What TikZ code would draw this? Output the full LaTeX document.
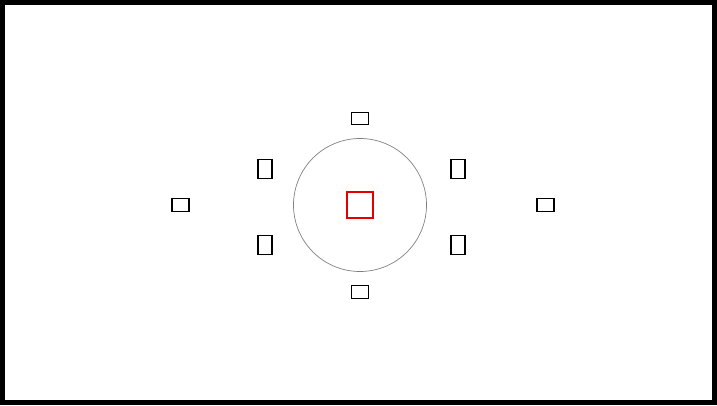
\documentclass[tikz,border=0pt]{standalone}
\begin{document}
\begin{tikzpicture}[x=1pt,y=-1pt,
    wide/.style={draw,line width=1.1pt,inner sep=0pt,minimum width=17pt,minimum height=12.5pt},
    tall/.style={draw,line width=1.1pt,inner sep=0pt,minimum width=14pt,minimum height=18.5pt},
    centre/.style={draw=red!90!black,line width=1.5pt,inner sep=0pt,minimum size=26pt},
    ring/.style={circle,draw=gray,line width=0.7pt,inner sep=0pt,minimum size=133pt}]
                \useasboundingbox (0,0) rectangle (717,405) ;
                \draw [line width=5pt] (2.5,2.5) rectangle (714.5,402.5) ;
                \node [ring] (ring) at (360,205) {} ;
                \node [centre] (mid) at (360,205) {} ;
                \node [wide] (top) at (360,118.5) {} ;
                \node [wide] (bottom) at (360,292) {} ;
                \node [wide] (left) at (180.5,205) {} ;
                \node [wide] (right) at (545.5,205) {} ;
                \node [tall] (upleft) at (265,169) {} ;
                \node [tall] (upright) at (458,169) {} ;
                \node [tall] (lowleft) at (265,245) {} ;
                \node [tall] (lowright) at (458,245) {} ;
\end{tikzpicture}
\end{document}
